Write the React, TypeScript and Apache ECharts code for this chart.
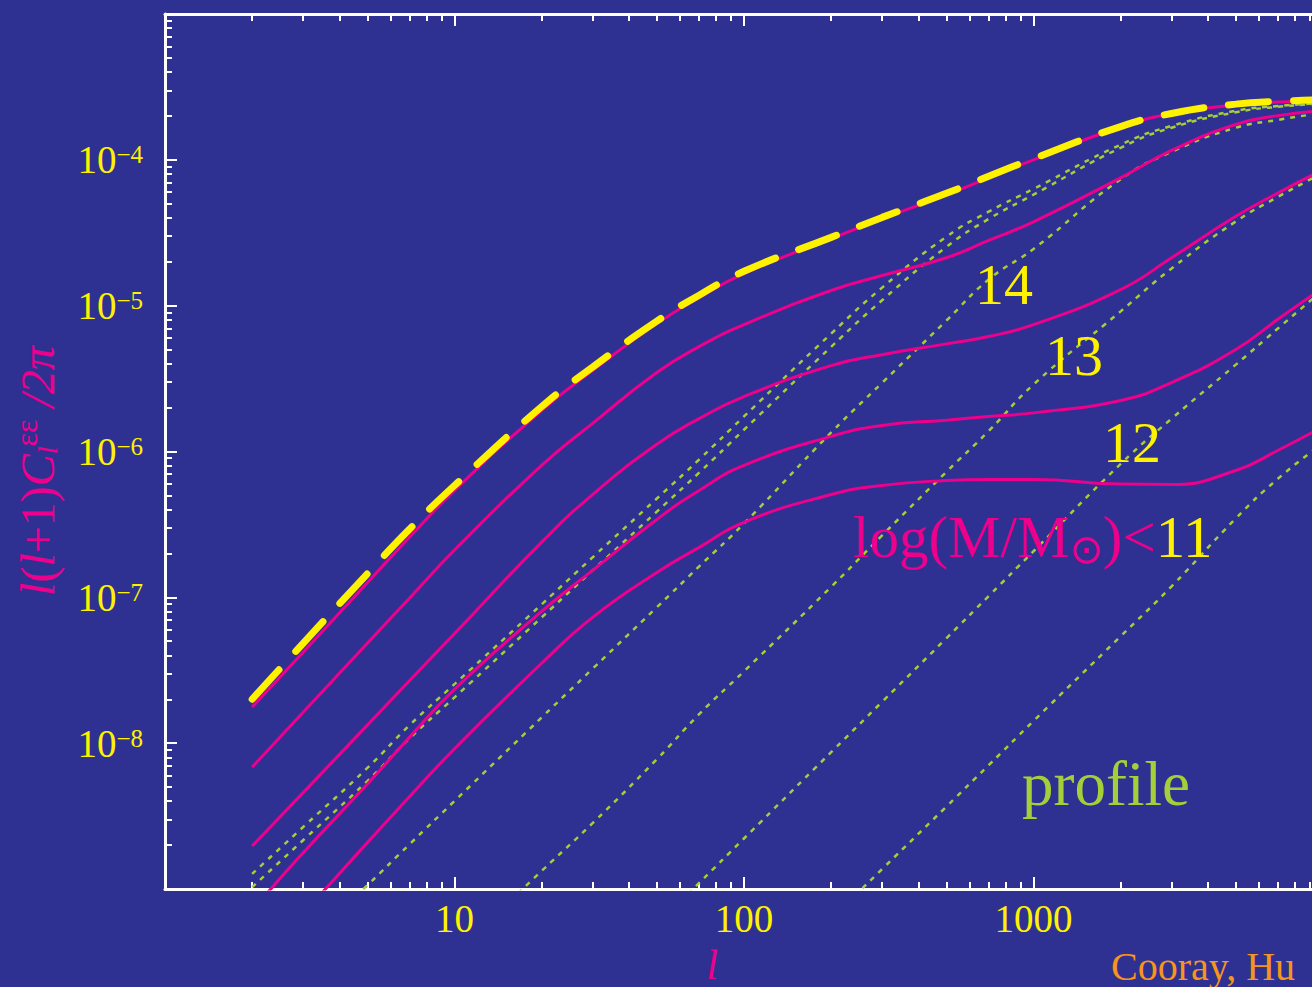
import React, { useEffect, useRef } from "react";
import * as echarts from "echarts";

// multipole l
const ell = [2, 3, 5, 7, 10, 20, 30, 50, 70, 100, 200, 300, 500, 700, 1000, 2000, 3000, 5000, 7000, 10000];

// l(l+1)C_l/2pi — total (yellow dashed)
const totalDashed = [2.0e-8, 4.84e-8, 1.45e-7, 2.94e-7, 5.85e-7, 2.03e-6, 3.79e-6, 7.83e-6, 1.18e-5, 1.72e-5, 2.94e-5, 4.03e-5, 5.89e-5, 7.71e-5, 1.02e-4, 1.69e-4, 2.08e-4, 2.41e-4, 2.52e-4, 2.58e-4];
// magenta: cumulative mass cuts
const massAll = [1.77e-8, 4.2e-8, 1.26e-7, 2.59e-7, 5.41e-7, 1.91e-6, 3.59e-6, 7.53e-6, 1.135e-5, 1.66e-5, 2.88e-5, 3.94e-5, 5.75e-5, 7.53e-5, 1.0e-4, 1.68e-4, 2.07e-4, 2.38e-4, 2.49e-4, 2.54e-4];
const massLt14 = [6.85e-9, 1.63e-8, 4.84e-8, 9.91e-8, 2.11e-7, 8.04e-7, 1.56e-6, 3.48e-6, 5.24e-6, 7.41e-6, 1.27e-5, 1.61e-5, 2.13e-5, 2.8e-5, 3.76e-5, 7.53e-5, 1.16e-4, 1.75e-4, 2.01e-4, 2.17e-4];
const massLt13 = [1.97e-9, 4.58e-9, 1.33e-8, 2.69e-8, 5.64e-8, 2.39e-7, 5.07e-7, 1.12e-6, 1.68e-6, 2.38e-6, 3.88e-6, 4.61e-6, 5.47e-6, 6.14e-6, 7.41e-6, 1.29e-5, 2.13e-5, 4.1e-5, 5.94e-5, 8.55e-5];
const massLt12 = [7.13e-10, 1.77e-9, 5.24e-9, 1.1e-8, 2.34e-8, 8.02e-8, 1.53e-7, 3.42e-7, 5.41e-7, 8.02e-7, 1.27e-6, 1.51e-6, 1.64e-6, 1.74e-6, 1.84e-6, 2.24e-6, 2.97e-6, 5.0e-6, 8.09e-6, 1.33e-5];
const massLt11 = [2.92e-10, 6.82e-10, 2.08e-9, 4.31e-9, 9.16e-9, 3.53e-8, 7.29e-8, 1.48e-7, 2.2e-7, 3.27e-7, 5.07e-7, 5.85e-7, 6.32e-7, 6.43e-7, 6.43e-7, 5.98e-7, 5.94e-7, 7.41e-7, 1.02e-6, 1.48e-6];

// green dotted: profile terms
const profileA = [1.27e-9, 2.66e-9, 6.76e-9, 1.33e-8, 2.54e-8, 8.95e-8, 1.88e-7, 4.76e-7, 8.81e-7, 1.74e-6, 6.43e-6, 1.33e-5, 2.97e-5, 4.41e-5, 6.32e-5, 1.27e-4, 1.71e-4, 2.17e-4, 2.34e-4, 2.45e-4];
const profileB = [1.03e-9, 2.16e-9, 5.5e-9, 1.08e-8, 2.06e-8, 7.28e-8, 1.53e-7, 3.87e-7, 7.16e-7, 1.41e-6, 5.22e-6, 1.09e-5, 2.53e-5, 3.93e-5, 5.77e-5, 1.21e-4, 1.66e-4, 2.12e-4, 2.31e-4, 2.43e-4];
const profile14 = [1.87e-10, 4.04e-10, 1.06e-9, 2.03e-9, 4.01e-9, 1.5e-8, 3.24e-8, 8.55e-8, 1.63e-7, 3.21e-7, 1.35e-6, 2.96e-6, 7.89e-6, 1.51e-5, 2.45e-5, 7.35e-5, 1.135e-4, 1.66e-4, 1.88e-4, 2.1e-4];
const profile13 = [null, null, null, null, 3.59e-10, 1.33e-9, 2.83e-9, 7.76e-9, 1.58e-8, 3.11e-8, 1.18e-7, 2.66e-7, 7.24e-7, 1.38e-6, 2.88e-6, 9.14e-6, 1.8e-5, 3.78e-5, 5.58e-5, 8.15e-5];
const profile12 = [null, null, null, null, null, null, null, 5.7e-10, 1.1e-9, 2.22e-9, 8.67e-9, 1.92e-8, 5.24e-8, 1.02e-7, 2.07e-7, 8.22e-7, 1.68e-6, 3.94e-6, 7.0e-6, 1.28e-5];
const profile11 = [null, null, null, null, null, null, null, null, null, null, 6.24e-10, 1.37e-9, 3.67e-9, 7.06e-9, 1.42e-8, 5.41e-8, 1.19e-7, 3.48e-7, 6.53e-7, 1.14e-6];

// tick labels (decade exponents)
const xLabelExps = [1, 2, 3];
const yLabelExps = [-4, -5, -6, -7, -8];
const xDecades = [0, 1, 2, 3, 4];
const yDecades = [-9, -8, -7, -6, -5, -4, -3];
const minorMultipliers = [2, 3, 4, 5, 6, 7, 8, 9];

const BG = "#2E3192";
const MAGENTA = "#EC008C";
const YELLOW = "#FFF200";
const GREEN = "#A6CE39";
const ORANGE = "#F7941D";
const SERIF = "'Liberation Serif', 'Times New Roman', 'DejaVu Serif', serif";

function pairs(vals: (number | null)[]) {
  const out: [number, number][] = [];
  ell.forEach((l, i) => {
    const v = vals[i];
    if (v != null) out.push([l, v]);
  });
  return out;
}

function minorTicks(lo: number, hi: number) {
  const out: number[] = [];
  for (let d = lo; d < hi; d++) for (const k of minorMultipliers) out.push(d + Math.log10(k));
  return out;
}

export default function App() {
  const ref = useRef<HTMLDivElement>(null);

  useEffect(() => {
    if (!ref.current) return;
    const chart = echarts.init(ref.current, undefined, { renderer: "svg" });

    const tickAxisBase = (position: string, vals: number[], len: number, showLine: boolean, min: number, max: number) => ({
      type: "value",
      min,
      max,
      position,
      axisLine: { show: showLine, onZero: false, lineStyle: { color: "#FFFFFF", width: 3 } },
      axisTick: { show: true, inside: true, length: len, customValues: vals, lineStyle: { color: "#FFFFFF", width: 2 } },
      axisLabel: { show: false },
      splitLine: { show: false },
    });

    const magentaLine = (name: string, vals: (number | null)[]) => ({
      name,
      type: "line",
      xAxisIndex: 0,
      yAxisIndex: 0,
      data: pairs(vals),
      showSymbol: false,
      symbol: "none",
      smooth: 0.5,
      z: 3,
      lineStyle: { color: MAGENTA, width: 3 },
    });
    const greenLine = (name: string, vals: (number | null)[]) => ({
      name,
      type: "line",
      xAxisIndex: 0,
      yAxisIndex: 0,
      data: pairs(vals),
      showSymbol: false,
      symbol: "none",
      smooth: 0.5,
      z: 2,
      lineStyle: { color: GREEN, width: 2.5, type: [5, 6] },
    });

    const xMinor = minorTicks(0, 4);
    const yMinor = minorTicks(-9, -3);

    const option: any = {
      animation: false,
      backgroundColor: BG,
      grid: { left: 165, top: 14, right: 77, bottom: 98, containLabel: false },
      xAxis: [
        { type: "log", logBase: 10, min: 1, max: 10000, show: false, position: "bottom" },
        {
          ...tickAxisBase("bottom", xDecades, 12, true, 0, 4),
          axisLabel: {
            show: true,
            customValues: xLabelExps,
            formatter: (v: number) => String(Math.round(Math.pow(10, v))),
            color: YELLOW,
            fontSize: 39,
            fontFamily: SERIF,
            margin: 10,
          },
        },
        tickAxisBase("bottom", xMinor, 7, false, 0, 4),
        tickAxisBase("top", xDecades, 12, true, 0, 4),
        tickAxisBase("top", xMinor, 7, false, 0, 4),
      ],
      yAxis: [
        { type: "log", logBase: 10, min: 1e-9, max: 1e-3, show: false, position: "left" },
        {
          ...tickAxisBase("left", yDecades, 12, true, -9, -3),
          axisLabel: {
            show: true,
            customValues: yLabelExps,
            formatter: (v: number) => `{b|10}{s|\u2212${Math.round(-v)}}`,
            margin: 22,
            rich: {
              b: { fontSize: 39, fontFamily: SERIF, color: YELLOW },
              s: { fontSize: 25, fontFamily: SERIF, color: YELLOW, padding: [0, 0, 10, 0] },
            },
          },
        },
        tickAxisBase("left", yMinor, 7, false, -9, -3),
      ],
      series: [
        greenLine("profile a", profileA),
        greenLine("profile b", profileB),
        greenLine("profile 14", profile14),
        greenLine("profile 13", profile13),
        greenLine("profile 12", profile12),
        greenLine("profile 11", profile11),
        magentaLine("all", massAll),
        magentaLine("<14", massLt14),
        magentaLine("<13", massLt13),
        magentaLine("<12", massLt12),
        magentaLine("<11", massLt11),
        {
          name: "total",
          type: "line",
          xAxisIndex: 0,
          yAxisIndex: 0,
          data: pairs(totalDashed),
          showSymbol: false,
          symbol: "none",
          smooth: 0.5,
          z: 4,
          lineStyle: { color: YELLOW, width: 7, type: [40, 25], cap: "round" },
        },
      ],
      graphic: [
        { type: "text", x: 1004, y: 284, z: 10, style: { text: "14", fill: YELLOW, fontSize: 58, fontFamily: SERIF, align: "center", verticalAlign: "middle" } },
        { type: "text", x: 1074, y: 355, z: 10, style: { text: "13", fill: YELLOW, fontSize: 58, fontFamily: SERIF, align: "center", verticalAlign: "middle" } },
        { type: "text", x: 1132, y: 442, z: 10, style: { text: "12", fill: YELLOW, fontSize: 58, fontFamily: SERIF, align: "center", verticalAlign: "middle" } },
        {
          type: "text",
          x: 853,
          y: 537,
          z: 10,
          style: {
            text: "{m|log(M/M}{o|\u2299}{m|)<}{y|11}",
            align: "left",
            verticalAlign: "middle",
            rich: {
              m: { fill: MAGENTA, fontSize: 59, fontFamily: SERIF },
              o: { fill: MAGENTA, fontSize: 40, fontFamily: "'DejaVu Sans', 'DejaVu Serif', sans-serif", padding: [24, 0, 0, 0] },
              y: { fill: YELLOW, fontSize: 59, fontFamily: SERIF },
            },
          },
        },
        { type: "text", x: 1022, y: 784, z: 10, style: { text: "profile", fill: GREEN, fontSize: 63, fontFamily: SERIF, align: "left", verticalAlign: "middle" } },
        { type: "text", x: 712, y: 986, z: 10, style: { text: "l", fill: MAGENTA, fontSize: 42, lineHeight: 42, fontStyle: "italic", fontFamily: SERIF, align: "center", verticalAlign: "bottom" } },
        { type: "text", x: 1111, y: 986, z: 10, style: { text: "Cooray, Hu", fill: ORANGE, fontSize: 40, lineHeight: 40, fontFamily: SERIF, align: "left", verticalAlign: "bottom" } },
        {
          type: "text",
          x: 37,
          y: 471,
          rotation: Math.PI / 2,
          z: 10,
          style: {
            text: "{i|l}{n|(}{i|l}{n|+1)}{i|C}{sub|l}{sup|\u03b5\u03b5}{n| }{i|/2\u03c0}",
            align: "center",
            verticalAlign: "middle",
            rich: {
              i: { fill: MAGENTA, fontSize: 48, fontStyle: "italic", fontFamily: SERIF },
              n: { fill: MAGENTA, fontSize: 48, fontFamily: SERIF },
              sub: { fill: MAGENTA, fontSize: 28, fontStyle: "italic", fontFamily: SERIF, padding: [20, 0, 0, 0] },
              sup: { fill: MAGENTA, fontSize: 32, fontFamily: SERIF, padding: [0, 0, 22, 0] },
            },
          },
        },
      ],
    };

    chart.setOption(option);
    return () => chart.dispose();
  }, []);

  return (
    <div style={{ position: "fixed", left: 0, top: 0, width: 1312, height: 987, overflow: "hidden", background: BG }}>
      <div ref={ref} style={{ width: 1400, height: 987 }} />
    </div>
  );
}
